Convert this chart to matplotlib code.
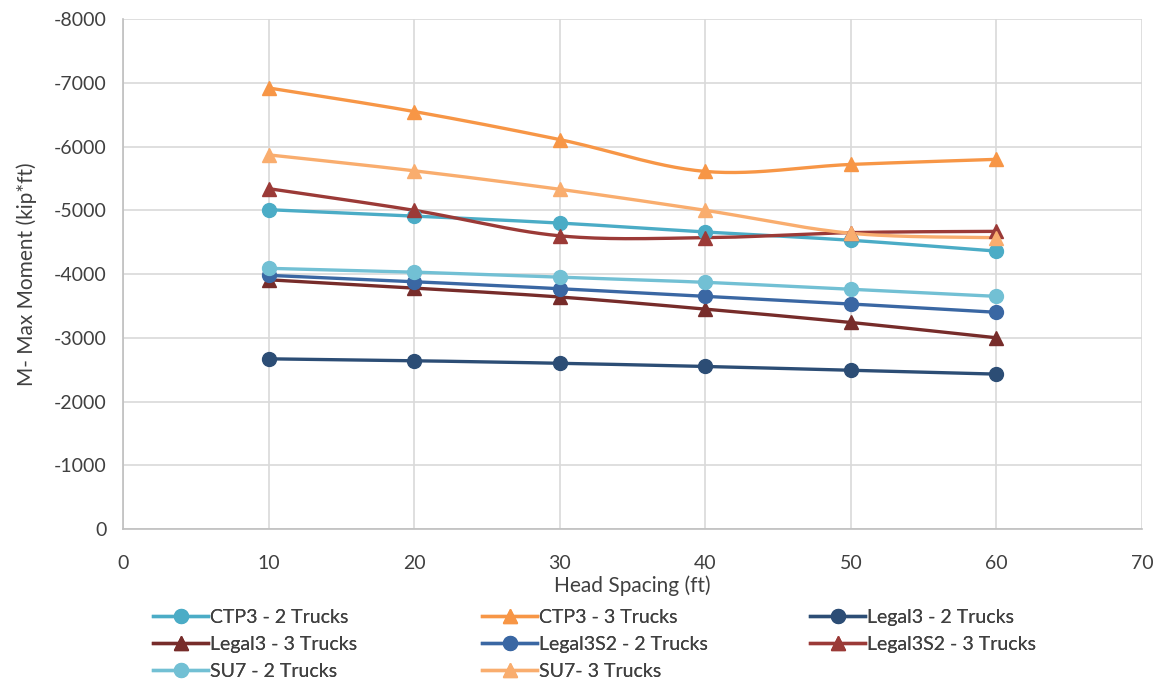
import matplotlib.pyplot as plt
import numpy as np

plt.rcParams['font.family'] = ['Lato', 'DejaVu Sans']
plt.rcParams['axes.unicode_minus'] = False

spacing = [10, 20, 30, 40, 50, 60]

ctp3_2 = [-5010, -4910, -4800, -4660, -4530, -4360]
ctp3_3 = [-6920, -6550, -6110, -5610, -5720, -5800]
legal3_2 = [-2670, -2640, -2600, -2550, -2490, -2430]
legal3_3 = [-3910, -3780, -3640, -3450, -3240, -3000]
legal3s2_2 = [-3980, -3880, -3770, -3650, -3530, -3400]
legal3s2_3 = [-5340, -5000, -4600, -4570, -4650, -4670]
su7_2 = [-4090, -4030, -3950, -3870, -3760, -3650]
su7_3 = [-5870, -5620, -5330, -5000, -4640, -4570]

series = [
    ('CTP3 - 2 Trucks', ctp3_2, '#4BACC6', 'o'),
    ('CTP3 - 3 Trucks', ctp3_3, '#F79646', '^'),
    ('Legal3 - 2 Trucks', legal3_2, '#2C4D75', 'o'),
    ('Legal3 - 3 Trucks', legal3_3, '#772C2A', '^'),
    ('Legal3S2 - 2 Trucks', legal3s2_2, '#3A67A3', 'o'),
    ('Legal3S2 - 3 Trucks', legal3s2_3, '#9B3A37', '^'),
    ('SU7 - 2 Trucks', su7_2, '#72C0D4', 'o'),
    ('SU7- 3 Trucks', su7_3, '#F9AD6E', '^'),
]


def smooth(x, y, n=30):
    # Catmull-Rom style smoothing, like a spreadsheet "smoothed line"
    x = np.asarray(x, float)
    y = np.asarray(y, float)
    px, py = [], []
    for i in range(len(x) - 1):
        x0, y0 = (x[i - 1], y[i - 1]) if i > 0 else (x[i], y[i])
        x3, y3 = (x[i + 2], y[i + 2]) if i + 2 < len(x) else (x[i + 1], y[i + 1])
        x1, y1, x2, y2 = x[i], y[i], x[i + 1], y[i + 1]
        c1 = (x1 + (x2 - x0) / 6, y1 + (y2 - y0) / 6)
        c2 = (x2 - (x3 - x1) / 6, y2 - (y3 - y1) / 6)
        t = np.linspace(0, 1, n)
        px.extend((1 - t) ** 3 * x1 + 3 * (1 - t) ** 2 * t * c1[0]
                  + 3 * (1 - t) * t ** 2 * c2[0] + t ** 3 * x2)
        py.extend((1 - t) ** 3 * y1 + 3 * (1 - t) ** 2 * t * c1[1]
                  + 3 * (1 - t) * t ** 2 * c2[1] + t ** 3 * y2)
    return px, py


fig = plt.figure(figsize=(11.63, 6.83), dpi=100)
ax = fig.add_axes([0.1058, 0.2255, 0.8762, 0.7465])

handles = []
for label, vals, color, marker in series:
    sx, sy = smooth(spacing, vals)
    ax.plot(sx, sy, color=color, linewidth=2.4, zorder=3)
    ax.plot(spacing, vals, linestyle='none', marker=marker, color=color,
            markersize=10, zorder=4)
    h, = ax.plot([], [], color=color, linewidth=2.4, marker=marker, markersize=10,
                 label=label)
    handles.append(h)

ax.set_xlim(0, 70)
ax.set_ylim(0, -8000)
ax.set_xticks(range(0, 71, 10))
ax.set_yticks(range(0, -8001, -1000))
ax.grid(True, color='#D9D9D9', linewidth=1.2)
ax.set_axisbelow(True)
for s in ['top', 'right']:
    ax.spines[s].set_visible(False)
for s in ['left', 'bottom']:
    ax.spines[s].set_color('#BFBFBF')
    ax.spines[s].set_linewidth(1.2)
ax.tick_params(length=0, labelsize=14, colors='#404040')
ax.tick_params(axis='x', pad=19)
ax.tick_params(axis='y', pad=12)
ax.set_xlabel('Head Spacing (ft)', fontsize=15, color='#404040', labelpad=2)
ax.set_ylabel('M- Max Moment (kip*ft)', fontsize=15, color='#404040', labelpad=12)

# legend laid out row by row, one legend per column
col_x = [0.1316, 0.4145, 0.6965]
for c in range(3):
    leg = fig.legend(handles=handles[c::3], loc='upper left',
                     bbox_to_anchor=(col_x[c], 0.108), frameon=False,
                     fontsize=14, handlelength=2.85, handletextpad=0.1,
                     labelspacing=0.5, borderaxespad=0, borderpad=0,
                     labelcolor='#404040')
    fig.add_artist(leg)

fig.savefig('out.png', dpi=100)
